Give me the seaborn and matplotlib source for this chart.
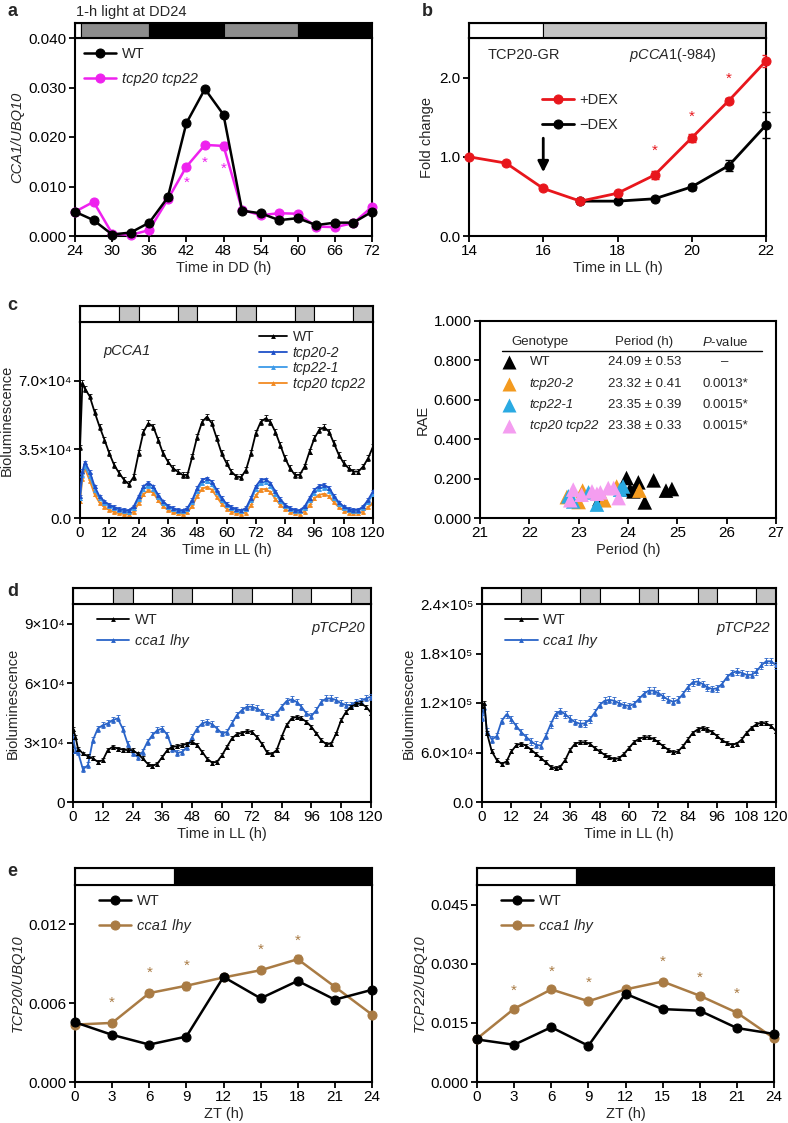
import numpy as np
import pandas as pd
import matplotlib
matplotlib.use("Agg")
import matplotlib.pyplot as plt
import seaborn as sns

# ---------------- data ----------------
# panel a
a_time = [24, 27, 30, 33, 36, 39, 42, 45, 48, 51, 54, 57, 60, 63, 66, 69, 72]
a_wt = [0.0049, 0.0032, 0.0003, 0.0007, 0.0027, 0.0078, 0.0228, 0.0297, 0.0245,
        0.0051, 0.0046, 0.0032, 0.0036, 0.0022, 0.0027, 0.0027, 0.0049]
a_wt_err = [0.0002, 0.0002, 0.0001, 0.0001, 0.0002, 0.0003, 0.0004, 0.0003, 0.0004,
            0.0002, 0.0002, 0.0002, 0.0002, 0.0002, 0.0002, 0.0002, 0.0003]
a_dbl = [0.0049, 0.0069, 0.0005, 0.0002, 0.0012, 0.0074, 0.0140, 0.0184, 0.0182,
         0.0053, 0.0042, 0.0046, 0.0045, 0.0019, 0.0018, 0.0026, 0.0059]
a_dbl_err = [0.0002, 0.0003, 0.0001, 0.0001, 0.0002, 0.0003, 0.0005, 0.0004, 0.0008,
             0.0002, 0.0002, 0.0002, 0.0002, 0.0002, 0.0002, 0.0002, 0.0003]
a_star_x = [42, 45, 48]
a_star_y = [0.0108, 0.0147, 0.0135]
a_bar_edges = [24, 25, 36, 48, 60, 72]
a_bar_colors = ["white", "#8c8c8c", "black", "#8c8c8c", "black"]

# panel b
b_time = [14, 15, 16, 17, 18, 19, 20, 21, 22]
b_plus = [1.00, 0.92, 0.60, 0.44, 0.54, 0.77, 1.24, 1.71, 2.21]
b_plus_err = [0.0, 0.02, 0.02, 0.02, 0.02, 0.05, 0.05, 0.03, 0.08]
b_time_minus = [17, 18, 19, 20, 21, 22]
b_minus = [0.44, 0.44, 0.47, 0.62, 0.89, 1.40]
b_minus_err = [0.01, 0.01, 0.02, 0.04, 0.07, 0.16]
b_star_x = [19, 20, 21]
b_star_y = [1.08, 1.50, 1.98]
b_bar_edges = [14, 16, 22]
b_bar_colors = ["white", "#c4c4c4"]

# panels c, d : bioluminescence in LL
t_ll = [0, 1] + list(range(2, 121, 2))
ll_bar_edges = [0, 16, 24, 40, 48, 64, 72, 88, 96, 112, 120]
ll_bar_colors = ["white", "#c4c4c4"] * 5

c_wt = [36000, 69000,
        66000, 62000, 54000, 46600, 40000, 33000,
        27000, 23000, 19500, 17300, 21000, 33000,
        44000, 48300, 46600, 40000, 33000, 28800,
        25400, 23700, 22000, 22000, 31400, 41500,
        49000, 51700, 48300, 40700, 33000, 28000,
        23700, 21200, 20800, 24600, 33000, 43200,
        49000, 50800, 49000, 44000, 37300, 30500,
        25400, 22000, 22000, 26300, 33900, 40700,
        45000, 46300, 44000, 38100, 32200, 28000,
        25400, 23700, 23700, 26300, 30500, 36400]
c_tcp20 = [11000, 24000,
           28500, 23700, 16100, 11000, 8500, 6800,
           5600, 4700, 4200, 3900, 5900, 11000,
           16100, 18100, 16100, 11900, 8500, 6300,
           5100, 4200, 3900, 5100, 9300, 15300,
           19500, 20300, 18600, 14400, 10200, 7300,
           5600, 4600, 3900, 5100, 10200, 16100,
           19500, 19800, 17800, 13600, 9700, 6800,
           5100, 4200, 3900, 5900, 10200, 14400,
           16400, 17000, 15300, 11400, 8000, 5900,
           4700, 4200, 4200, 5900, 9300, 13600]
c_tcp22 = [10000, 22000,
           26500, 21500, 14500, 10000, 7600, 6000,
           4900, 4100, 3600, 3300, 5000, 9800,
           14600, 16500, 14800, 10800, 7600, 5600,
           4500, 3700, 3400, 4500, 8400, 14000,
           18000, 18800, 17200, 13200, 9200, 6500,
           5000, 4000, 3400, 4500, 9200, 14800,
           17800, 18200, 16300, 12400, 8800, 6100,
           4500, 3700, 3400, 5200, 9200, 13000,
           15000, 15500, 13900, 10300, 7200, 5200,
           4100, 3600, 3700, 5200, 8400, 12000]
c_dbl = [8500, 20000,
         25400, 19000, 12000, 7800, 5500, 4000,
         3000, 2400, 2000, 1800, 3200, 7500,
         12000, 14200, 12800, 9000, 6000, 4000,
         3000, 2300, 2000, 2900, 6200, 11200,
         15000, 15800, 14400, 10800, 7200, 4800,
         3300, 2400, 2000, 2800, 6500, 11500,
         14500, 14800, 13200, 9800, 6700, 4500,
         3200, 2400, 2100, 3300, 6500, 10000,
         11900, 12300, 11000, 8000, 5500, 3800,
         2800, 2300, 2300, 3300, 5500, 7800]
c_labels = ["WT", "tcp20-2", "tcp22-1", "tcp20 tcp22"]
c_colors = ["black", "#1f50c8", "#3c9ae8", "#f28a22"]
c_err = [1500, 800, 700, 600]

# panel c right: RAE vs period
rae_geno = (["WT"] * 9 + ["tcp20-2"] * 6 + ["tcp22-1"] * 6 + ["tcp20 tcp22"] * 9)
rae_period = [23.97, 24.04, 24.11, 24.21, 24.34, 24.52, 24.77, 24.89, 23.42,
              24.23, 23.08, 23.52, 23.77, 23.00, 22.76,
              23.37, 22.79, 22.89, 23.84, 23.90, 23.20,
              22.89, 22.83, 23.06, 23.27, 23.44, 23.60, 23.81, 23.71, 23.37]
rae_value = [0.203, 0.144, 0.135, 0.181, 0.079, 0.191, 0.139, 0.147, 0.096,
             0.139, 0.139, 0.090, 0.160, 0.081, 0.106,
             0.068, 0.110, 0.084, 0.144, 0.160, 0.130,
             0.144, 0.090, 0.118, 0.135, 0.130, 0.152, 0.101, 0.152, 0.123]
rae_colors = {"WT": "black", "tcp20-2": "#f39a1f", "tcp22-1": "#2aaae2",
              "tcp20 tcp22": "#f49df0"}
tab_period = ["24.09 \u00b1 0.53", "23.32 \u00b1 0.41", "23.35 \u00b1 0.39", "23.38 \u00b1 0.33"]
tab_p = ["\u2013", "0.0013*", "0.0015*", "0.0015*"]

# panel d
d20_wt = [37000, 33000,
          27000, 24500, 23100, 22000, 20300, 21100,
          26200, 27900, 27000, 26500, 26200, 26200,
          24500, 22000, 19400, 18200, 19400, 22800,
          26200, 27900, 28200, 28700, 29500, 30400,
          28700, 25300, 21900, 19900, 20300, 23600,
          27900, 32100, 34300, 34900, 35800, 35400,
          32900, 29500, 25300, 24100, 26200, 32900,
          38800, 42200, 43000, 42200, 40500, 38000,
          34600, 31200, 29200, 29500, 34600, 41400,
          45600, 48100, 49500, 49800, 48100, 45100]
d20_cl = [32900, 26000,
          25300, 16500, 18600, 31200, 37100, 38800,
          39700, 41400, 42200, 37100, 29500, 24500,
          22800, 25300, 30400, 33800, 36300, 37100,
          33800, 27000, 24800, 25300, 27900, 32900,
          37100, 39700, 40500, 39300, 37100, 34600,
          35400, 39700, 43900, 46400, 48100, 48100,
          47300, 45600, 43400, 43000, 44700, 48100,
          51000, 51800, 50600, 48100, 44700, 43400,
          46400, 50600, 52300, 52300, 51500, 49800,
          49000, 49000, 50600, 51100, 52300, 53200]
d22_wt = [116600, 120000,
          83800, 61300, 51100, 46200, 49100, 61300,
          68700, 70800, 68300, 63400, 58500, 53200,
          48300, 42900, 40900, 42900, 51100, 63400,
          70800, 72400, 72400, 70800, 65400, 61300,
          57300, 54400, 51900, 53200, 58500, 65400,
          72400, 76500, 78500, 78500, 76500, 72400,
          67500, 63400, 60100, 61300, 67500, 75700,
          83800, 87900, 90000, 87900, 84700, 79800,
          74800, 71600, 69500, 70800, 75700, 83800,
          90000, 94100, 96100, 95300, 92000, 85900]
d22_cl = [102000, 115000,
          85900, 75700, 79800, 98200, 106300, 100200,
          92000, 84700, 78900, 73600, 69500, 68300,
          79800, 94100, 106300, 110400, 106300, 101000,
          96900, 94900, 95300, 100200, 108400, 117400,
          122700, 123900, 122700, 119800, 117400, 116600,
          118600, 124700, 130900, 135000, 135000, 132100,
          128000, 123900, 121500, 123900, 130900, 139100,
          145200, 146000, 143200, 139100, 137000, 137800,
          143200, 151300, 156600, 158300, 156600, 154200,
          154200, 158300, 165600, 170600, 170600, 165600]
d20_err = [1000, 1500]
d22_err = [2500, 4000]

# panel e
zt = [0, 3, 6, 9, 12, 15, 18, 21, 24]
e20_wt = [0.00455, 0.00359, 0.00285, 0.00346, 0.0080, 0.00637, 0.0077, 0.00627, 0.00702]
e20_cl = [0.00437, 0.0045, 0.00677, 0.00733, 0.00796, 0.00851, 0.00935, 0.00725, 0.00513]
e20_cl_err = [0.0001, 0.0001, 0.0002, 0.0003, 0.0001, 0.0001, 0.0003, 0.0001, 0.0001]
e20_star_x = [3, 6, 9, 15, 18]
e20_star_y = [0.0060, 0.00834, 0.00884, 0.01003, 0.01079]
e22_wt = [0.0108, 0.00945, 0.0139, 0.0092, 0.0224, 0.0185, 0.0181, 0.0137, 0.0122]
e22_wt_err = [0.0002, 0.0002, 0.0002, 0.0002, 0.0003, 0.0006, 0.0004, 0.0002, 0.0002]
e22_cl = [0.0110, 0.0186, 0.0235, 0.0205, 0.0235, 0.0255, 0.0219, 0.0176, 0.0111]
e22_star_x = [3, 6, 9, 15, 18, 21]
e22_star_y = [0.0232, 0.0279, 0.0251, 0.0304, 0.0264, 0.0224]
e_bar_edges = [0, 8, 24]
e_bar_colors = ["white", "black"]

# ---------------- style ----------------
sns.set_theme(style="ticks")
plt.rcParams["font.family"] = ["Liberation Sans", "DejaVu Sans"]
plt.rcParams["mathtext.fontset"] = "custom"
plt.rcParams["mathtext.rm"] = "Liberation Sans"
plt.rcParams["mathtext.it"] = "Liberation Sans:italic"

TICK = 11
LAB = 10.5
MAG = "#ee22ee"
RED = "#e8161c"
BLUE = "#2a64c8"
BROWN = "#a97b44"

W, H = 788, 1123
fig = plt.figure(figsize=(W / 100, H / 100), dpi=100)


def px_axes(x0, y0, x1, y1):
    return fig.add_axes([x0 / W, 1 - y1 / H, (x1 - x0) / W, (y1 - y0) / H])


def style(ax):
    for s in ax.spines.values():
        s.set_visible(True)
        s.set_linewidth(1.5)
        s.set_color("black")
    ax.tick_params(direction="out", length=4, width=1.3, labelsize=TICK,
                   top=False, right=False, pad=2, colors="black")


def light_bar(x0, y0, x1, y1, edges, colors):
    bx = px_axes(x0, y0, x1, y1)
    for i, c in enumerate(colors):
        bx.axvspan(edges[i], edges[i + 1], facecolor=c, edgecolor="black", lw=0.8)
    bx.set_xlim(edges[0], edges[-1])
    bx.set_ylim(0, 1)
    bx.set_xticks([])
    bx.set_yticks([])
    for s in bx.spines.values():
        s.set_linewidth(1.5)
        s.set_color("black")
    return bx


def stars(ax, xs, ys, color):
    for x, y in zip(xs, ys):
        ax.text(x, y, "*", color=color, ha="center", va="center", fontsize=11)


def trace(ax, y, color, label, err, z):
    sns.lineplot(x=t_ll, y=y, ax=ax, color=color, marker="^", markersize=3.5,
                 markeredgewidth=0, linewidth=1.3, label=label, zorder=z)
    ax.errorbar(t_ll, y, yerr=err, fmt="none", ecolor=color, elinewidth=0.6,
                capsize=1.5, capthick=0.6, zorder=z)


def letter(x, y, s):
    fig.text(x / W, 1 - y / H, s, fontsize=13, fontweight="bold", va="center")


# ---------------- panel a ----------------
ax = px_axes(75, 38, 372, 236)
style(ax)
sns.lineplot(x=a_time, y=a_wt, ax=ax, color="black", marker="o", markersize=6.5,
             markeredgecolor="black", linewidth=1.8, label="WT", zorder=4, clip_on=False)
sns.lineplot(x=a_time, y=a_dbl, ax=ax, color=MAG, marker="o", markersize=6.5,
             markeredgecolor=MAG, linewidth=1.8, label="tcp20 tcp22", zorder=3, clip_on=False)
ax.errorbar(a_time, a_wt, yerr=a_wt_err, fmt="none", ecolor="black", elinewidth=1, capsize=2.5, zorder=4)
ax.errorbar(a_time, a_dbl, yerr=a_dbl_err, fmt="none", ecolor=MAG, elinewidth=1, capsize=2.5, zorder=3)
stars(ax, a_star_x, a_star_y, MAG)
ax.set_xlim(24, 72)
ax.set_ylim(0, 0.040)
ax.set_xticks(range(24, 73, 6))
ax.set_yticks([0, 0.01, 0.02, 0.03, 0.04])
ax.set_yticklabels(["0.000", "0.010", "0.020", "0.030", "0.040"])
ax.set_xlabel("Time in DD (h)", fontsize=LAB, labelpad=2)
ax.set_ylabel("CCA1/UBQ10", fontsize=LAB, style="italic", labelpad=3)
leg = ax.legend(loc="upper left", frameon=False, fontsize=LAB, handlelength=2.2,
                labelspacing=0.8, borderaxespad=0.2, handletextpad=0.4)
leg.get_texts()[1].set_style("italic")
light_bar(75, 23, 372, 38, a_bar_edges, a_bar_colors)
fig.text(76 / W, 1 - 12 / H, "1-h light at DD24", fontsize=LAB, va="center")
letter(7, 12, "a")

# ---------------- panel b ----------------
ax = px_axes(469, 38, 766, 236)
style(ax)
sns.lineplot(x=b_time, y=b_plus, ax=ax, color=RED, marker="o", markersize=6.5,
             markeredgecolor=RED, linewidth=2, label="+DEX", zorder=4, clip_on=False)
sns.lineplot(x=b_time_minus, y=b_minus, ax=ax, color="black", marker="o", markersize=6.5,
             markeredgecolor="black", linewidth=2, label="\u2212DEX", zorder=3, clip_on=False)
ax.errorbar(b_time, b_plus, yerr=b_plus_err, fmt="none", ecolor=RED, elinewidth=1.2, capsize=3, zorder=4)
ax.errorbar(b_time_minus, b_minus, yerr=b_minus_err, fmt="none", ecolor="black", elinewidth=1.2,
            capsize=3, zorder=3, clip_on=False)
stars(ax, b_star_x, b_star_y, RED)
ax.annotate("", xy=(16, 0.77), xytext=(16, 1.27),
            arrowprops=dict(arrowstyle="-|>", color="black", lw=2, mutation_scale=16))
ax.text(14.5, 2.28, "TCP20-GR", fontsize=LAB, va="center")
ax.text(18.3, 2.28, r"$\mathit{pCCA1}$(-984)", fontsize=LAB, va="center")
ax.set_xlim(14, 22)
ax.set_ylim(0, 2.5)
ax.set_xticks(range(14, 23, 2))
ax.set_yticks([0, 1, 2])
ax.set_yticklabels(["0.0", "1.0", "2.0"])
ax.set_xlabel("Time in LL (h)", fontsize=LAB, labelpad=2)
ax.set_ylabel("Fold change", fontsize=LAB, labelpad=4)
ax.legend(loc="upper left", bbox_to_anchor=(0.2, 0.79), frameon=False, fontsize=LAB,
          handlelength=2.2, labelspacing=0.8, handletextpad=0.4)
light_bar(469, 23, 766, 38, b_bar_edges, b_bar_colors)
letter(422, 12, "b")

# ---------------- panel c left ----------------
ax = px_axes(80, 322, 373, 518)
style(ax)
for y, col, lab, err, z in zip([c_wt, c_tcp20, c_tcp22, c_dbl], c_colors, c_labels, c_err, [5, 4, 3, 2]):
    trace(ax, y, col, lab, err, z)
ax.set_xlim(0, 120)
ax.set_ylim(0, 100000)
ax.set_xticks(range(0, 121, 12))
ax.set_yticks([0, 35000, 70000])
ax.set_yticklabels(["0.0", "3.5\u00d710\u2074", "7.0\u00d710\u2074"])
ax.set_xlabel("Time in LL (h)", fontsize=LAB, labelpad=2)
ax.set_ylabel("Bioluminescence", fontsize=LAB, labelpad=3)
leg = ax.legend(loc="upper right", frameon=False, fontsize=10, handlelength=2.0,
                labelspacing=0.1, borderaxespad=0.2, handletextpad=0.4)
for tx in leg.get_texts()[1:]:
    tx.set_style("italic")
ax.text(0.08, 0.85, "pCCA1", transform=ax.transAxes, fontsize=LAB, style="italic", va="center")
light_bar(80, 306, 373, 322, ll_bar_edges, ll_bar_colors)
letter(7, 305, "c")

# ---------------- panel c right ----------------
ax = px_axes(480, 321, 776, 518)
style(ax)
rae_df = pd.DataFrame({"Genotype": rae_geno, "Period": rae_period, "RAE": rae_value})
sns.scatterplot(data=rae_df, x="Period", y="RAE", hue="Genotype", palette=rae_colors,
                marker="^", s=110, edgecolor="none", legend=False, ax=ax, clip_on=False)
ax.set_xlim(21, 27)
ax.set_ylim(0, 1)
ax.set_xticks(range(21, 28))
ax.set_yticks(np.arange(0, 1.01, 0.2))
ax.set_yticklabels(["0.000", "0.200", "0.400", "0.600", "0.800", "1.000"])
ax.set_xlabel("Period (h)", fontsize=LAB, labelpad=2)
ax.set_ylabel("RAE", fontsize=LAB, labelpad=3)
TAB = 9.5
ax.text(22.22, 0.892, "Genotype", ha="center", va="center", fontsize=TAB)
ax.text(24.33, 0.892, "Period (h)", ha="center", va="center", fontsize=TAB)
ax.text(25.97, 0.892, r"$\mathit{P}$-value", ha="center", va="center", fontsize=TAB)
ax.plot([21.44, 26.72], [0.848, 0.848], color="black", lw=1)
row_y = [0.794, 0.681, 0.574, 0.465]
for i, g in enumerate(c_labels):
    ax.plot([21.58], [row_y[i]], marker="^", ms=10, color=rae_colors[g], mec="none")
    ax.text(22.01, row_y[i], g, va="center", fontsize=TAB, style="normal" if i == 0 else "italic")
    ax.text(24.33, row_y[i], tab_period[i], ha="center", va="center", fontsize=TAB)
    ax.text(25.97, row_y[i], tab_p[i], ha="center", va="center", fontsize=TAB)

# ---------------- panel d left ----------------
ax = px_axes(73, 604, 371, 802)
style(ax)
trace(ax, d20_wt, "black", "WT", d20_err[0], 4)
trace(ax, d20_cl, BLUE, "cca1 lhy", d20_err[1], 3)
ax.set_xlim(0, 120)
ax.set_ylim(0, 100000)
ax.set_xticks(range(0, 121, 12))
ax.set_yticks([0, 30000, 60000, 90000])
ax.set_yticklabels(["0", "3\u00d710\u2074", "6\u00d710\u2074", "9\u00d710\u2074"])
ax.set_xlabel("Time in LL (h)", fontsize=LAB, labelpad=2)
ax.set_ylabel("Bioluminescence", fontsize=LAB, labelpad=3)
leg = ax.legend(loc="upper left", frameon=False, fontsize=LAB, handlelength=2.2,
                labelspacing=0.5, borderaxespad=0.2, handletextpad=0.4, bbox_to_anchor=(0.05, 1))
leg.get_texts()[1].set_style("italic")
ax.text(0.98, 0.88, "pTCP20", transform=ax.transAxes, ha="right", va="center",
        fontsize=LAB, style="italic")
light_bar(73, 588, 371, 604, ll_bar_edges, ll_bar_colors)
letter(7, 592, "d")

# ---------------- panel d right ----------------
ax = px_axes(482, 604, 776, 802)
style(ax)
trace(ax, d22_wt, "black", "WT", d22_err[0], 4)
trace(ax, d22_cl, BLUE, "cca1 lhy", d22_err[1], 3)
ax.set_xlim(0, 120)
ax.set_ylim(0, 240000)
ax.set_xticks(range(0, 121, 12))
ax.set_yticks([0, 60000, 120000, 180000, 240000])
ax.set_yticklabels(["0.0", "6.0\u00d710\u2074", "1.2\u00d710\u2075", "1.8\u00d710\u2075", "2.4\u00d710\u2075"])
ax.set_xlabel("Time in LL (h)", fontsize=LAB, labelpad=2)
ax.set_ylabel("Bioluminescence", fontsize=LAB, labelpad=3)
leg = ax.legend(loc="upper left", frameon=False, fontsize=LAB, handlelength=2.2,
                labelspacing=0.5, borderaxespad=0.2, handletextpad=0.4, bbox_to_anchor=(0.05, 1))
leg.get_texts()[1].set_style("italic")
ax.text(0.98, 0.88, "pTCP22", transform=ax.transAxes, ha="right", va="center",
        fontsize=LAB, style="italic")
light_bar(482, 588, 776, 604, ll_bar_edges, ll_bar_colors)

# ---------------- panel e ----------------
for box, wt, cl, wt_err, cl_err, sx, sy, ymax, yt, ylab in [
        ((75, 885, 372, 1082), e20_wt, e20_cl, None, e20_cl_err, e20_star_x, e20_star_y,
         0.015, [0, 0.006, 0.012], "TCP20/UBQ10"),
        ((477, 885, 774, 1082), e22_wt, e22_cl, e22_wt_err, None, e22_star_x, e22_star_y,
         0.05, [0, 0.015, 0.030, 0.045], "TCP22/UBQ10")]:
    ax = px_axes(*box)
    style(ax)
    sns.lineplot(x=zt, y=wt, ax=ax, color="black", marker="o", markersize=6.5,
                 markeredgecolor="black", linewidth=1.8, label="WT", zorder=4, clip_on=False)
    sns.lineplot(x=zt, y=cl, ax=ax, color=BROWN, marker="o", markersize=6.5,
                 markeredgecolor=BROWN, linewidth=1.8, label="cca1 lhy", zorder=3, clip_on=False)
    if wt_err is not None:
        ax.errorbar(zt, wt, yerr=wt_err, fmt="none", ecolor="black", elinewidth=1, capsize=2.5, zorder=4)
    if cl_err is not None:
        ax.errorbar(zt, cl, yerr=cl_err, fmt="none", ecolor=BROWN, elinewidth=1, capsize=2.5, zorder=3)
    stars(ax, sx, sy, BROWN)
    ax.set_xlim(0, 24)
    ax.set_ylim(0, ymax)
    ax.set_xticks(zt)
    ax.set_yticks(yt)
    ax.set_yticklabels(["%.3f" % v for v in yt])
    ax.set_xlabel("ZT (h)", fontsize=LAB, labelpad=2)
    ax.set_ylabel(ylab, fontsize=LAB, style="italic", labelpad=3)
    leg = ax.legend(loc="upper left", frameon=False, fontsize=LAB, handlelength=2.2,
                    labelspacing=0.8, borderaxespad=0.2, handletextpad=0.4, bbox_to_anchor=(0.05, 1))
    leg.get_texts()[1].set_style("italic")
    light_bar(box[0], 868, box[2], 885, e_bar_edges, e_bar_colors)
letter(7, 872, "e")

fig.savefig("out.png", dpi=100)
